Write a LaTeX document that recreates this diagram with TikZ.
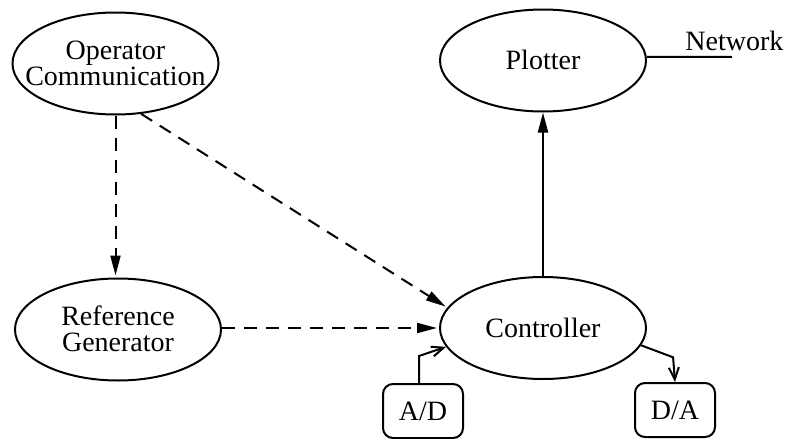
\documentclass[tikz,border=0pt]{standalone}
\usepackage{fontspec}
\setmainfont{Liberation Serif}
\usetikzlibrary{shapes.geometric,arrows.meta}
\newcommand{\zwtext}[1]{\makebox[0pt]{\begin{tabular}{@{}c@{}}\rule{0pt}{13.1pt}#1\end{tabular}}}
\begin{document}
\begin{tikzpicture}[x=0.5pt,y=-0.5pt,
  every node/.style={font=\fontsize{14}{13}\selectfont},
  proc/.style={draw,line width=1pt,ellipse,inner sep=0pt,
    minimum width=103pt,minimum height=51pt},
  io/.style={draw,line width=1pt,rounded corners=5pt,inner sep=0pt,
    minimum width=40pt,minimum height=27pt},
  dflow/.style={line width=1pt,dash pattern=on 6.5pt off 4.5pt,
    -{Triangle[length=10pt,width=5pt]},shorten >=1pt},
  sflow/.style={line width=1pt,-{Triangle[length=10pt,width=5pt]}},
  oflow/.style={line width=1pt,-{Straight Barb[length=6pt,width=5pt]}}]
\useasboundingbox (0,0) rectangle (787,439);
\node[proc] (op) at (115.5,63.5) {\zwtext{Operator\\Communication}};
\node[proc] (ref) at (118,329.5) {\zwtext{Reference\\Generator}};
\node[proc] (plot) at (543,60.5) {\zwtext{Plotter}};
\node[proc] (ctrl) at (543,328) {\zwtext{Controller}};
\node[io] (ad) at (423,411) {A/D};
\node[io] (da) at (675,410) {D/A};
\node[anchor=base west,inner sep=0pt] (net) at (685,50) {Network};
\coordinate (netend) at (732,57);

\draw[dflow] (op.south) -- (op.south |- ref.north);
\draw[dflow] (op.297) -- (ctrl.168);
\draw[dflow] (ref.east |- ctrl.west) -- (ctrl.west);
\draw[sflow] (ctrl.north) -- (plot.south);
\draw[line width=1pt] (plot.2) -- (netend);
\draw[oflow] ([xshift=-2pt]ad.north) -- ++(0,-27) -- (ctrl.191);
\draw[oflow] (ctrl.350) -- ++(32,12) -- (da.north);
\end{tikzpicture}
\end{document}
